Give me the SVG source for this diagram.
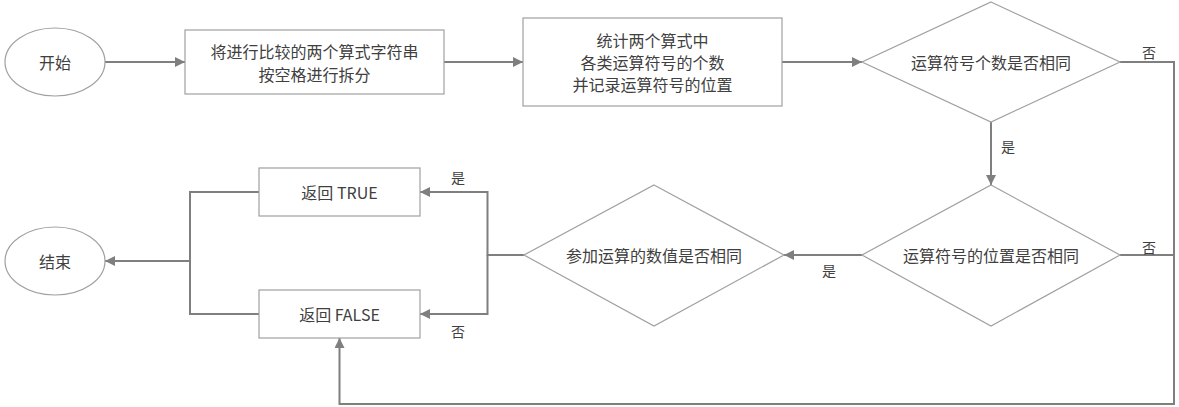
<svg xmlns="http://www.w3.org/2000/svg" width="1179" height="407" viewBox="0 0 1179 407">
<style>
.shape{fill:#ffffff;stroke:#a0a0a0;stroke-width:1.2}
.conn{fill:none;stroke:#7f7f7f;stroke-width:2}
.t{font-family:"Noto Sans CJK SC","Noto Sans",sans-serif;font-size:16px;fill:#404040;text-anchor:middle;dominant-baseline:central}
.lbl{font-family:"Noto Sans CJK SC","Noto Sans",sans-serif;font-size:14px;fill:#404040;text-anchor:middle;dominant-baseline:central}
</style>
<defs>
<marker id="arr" viewBox="0 0 10 10" refX="10" refY="5" markerWidth="5" markerHeight="5" orient="auto" markerUnits="strokeWidth">
<path d="M0,0 L10,5 L0,10 z" fill="#7f7f7f"/>
</marker>
</defs>
<rect width="1179" height="407" fill="#ffffff"/>
<g id="connectors">
<path class="conn" d="M105,62 H185" marker-end="url(#arr)"/>
<path class="conn" d="M444,62 H523" marker-end="url(#arr)"/>
<path class="conn" d="M782,62 H862" marker-end="url(#arr)"/>
<path class="conn" d="M991,122 V185" marker-end="url(#arr)"/>
<path class="conn" d="M1120,62 H1174 V404 H339.5 V338" marker-end="url(#arr)"/>
<path class="conn" d="M1120,255 H1174"/>
<path class="conn" d="M862,255 H784" marker-end="url(#arr)"/>
<path class="conn" d="M524,255 H487.5 V192 H420" marker-end="url(#arr)"/>
<path class="conn" d="M487.5,255 V314 H420" marker-end="url(#arr)"/>
<path class="conn" d="M259,192 H190 V314 H259"/>
<path class="conn" d="M190,261 H105" marker-end="url(#arr)"/>
<text class="lbl" x="1149" y="52">否</text>
<text class="lbl" x="1008" y="146">是</text>
<text class="lbl" x="1149" y="247">否</text>
<text class="lbl" x="829" y="270">是</text>
<text class="lbl" x="458" y="177">是</text>
<text class="lbl" x="458" y="331">否</text>
</g>
<g id="start">
<ellipse class="shape" cx="55" cy="62" rx="50" ry="34"/>
<text class="t" x="55" y="62">开始</text>
</g>
<g id="split">
<rect class="shape" x="185" y="30" width="259" height="64"/>
<text class="t" x="314.5" y="51">将进行比较的两个算式字符串</text>
<text class="t" x="314.5" y="74">按空格进行拆分</text>
</g>
<g id="count">
<rect class="shape" x="523" y="18" width="259" height="88"/>
<text class="t" x="652.5" y="40">统计两个算式中</text>
<text class="t" x="652.5" y="62">各类运算符号的个数</text>
<text class="t" x="652.5" y="84">并记录运算符号的位置</text>
</g>
<g id="dec1">
<polygon class="shape" points="991,2 1120,62 991,122 862,62"/>
<text class="t" x="991" y="62">运算符号个数是否相同</text>
</g>
<g id="dec2">
<polygon class="shape" points="991,185 1120,255 991,326 862,255"/>
<text class="t" x="991" y="255">运算符号的位置是否相同</text>
</g>
<g id="dec3">
<polygon class="shape" points="654,185 784,255 654,326 524,255"/>
<text class="t" x="654" y="255">参加运算的数值是否相同</text>
</g>
<g id="true">
<rect class="shape" x="259" y="168" width="161" height="48"/>
<text class="t" x="339.5" y="192">返回 TRUE</text>
</g>
<g id="false">
<rect class="shape" x="259" y="290" width="161" height="48"/>
<text class="t" x="339.5" y="314">返回 FALSE</text>
</g>
<g id="end">
<ellipse class="shape" cx="55" cy="261" rx="50" ry="34"/>
<text class="t" x="55" y="261">结束</text>
</g>
</svg>
